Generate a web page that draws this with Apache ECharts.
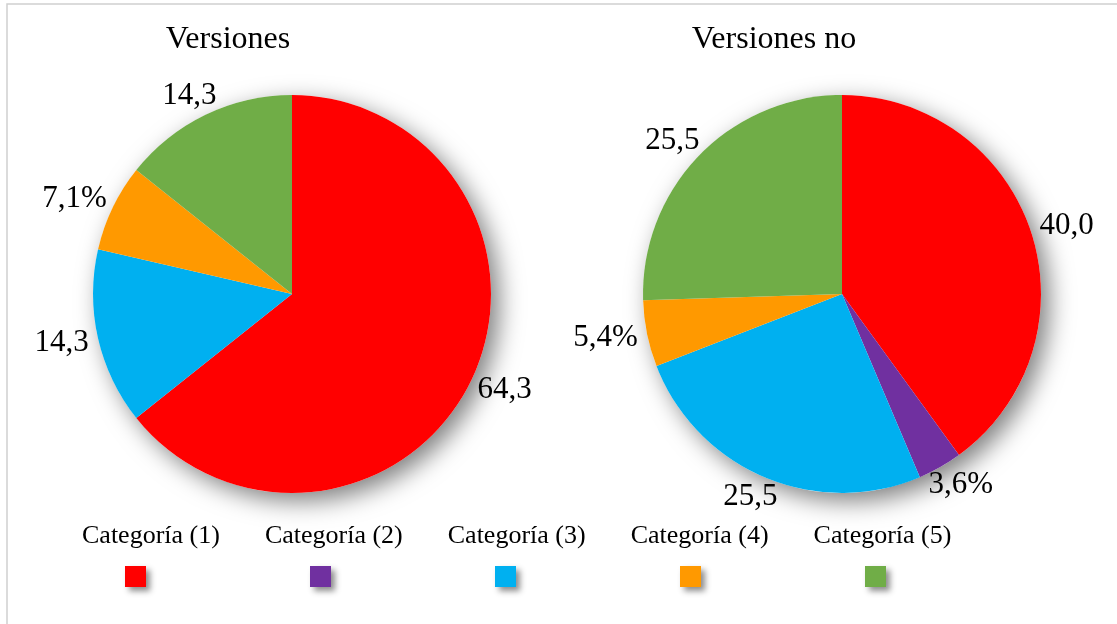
<!DOCTYPE html>
<html>
<head>
<meta charset="utf-8">
<script src="https://cdn.jsdelivr.net/npm/echarts@6/dist/echarts.min.js"></script>
<style>
html,body{margin:0;padding:0;background:#fff;}
#chart{width:1117px;height:624px;}
</style>
</head>
<body>
<div id="chart"></div>
<script>
const categories = ['Categoría (1)', 'Categoría (2)', 'Categoría (3)', 'Categoría (4)', 'Categoría (5)'];
const colors = ['#FF0000', '#7030A0', '#00B0F0', '#FF9900', '#70AD47'];
const titles = ['Versiones', 'Versiones no'];
const valuesVersiones = [64.3, 0, 14.3, 7.1, 14.3];
const labelsVersiones = ['64,3', '', '14,3', '7,1%', '14,3'];
const valuesVersionesNo = [40.0, 3.6, 25.5, 5.4, 25.5];
const labelsVersionesNo = ['40,0', '3,6%', '25,5', '5,4%', '25,5'];

const FONT = '"Liberation Serif", "Times New Roman", serif';
const R = 199;
const pies = [
  { cx: 292, cy: 294, values: valuesVersiones, labels: labelsVersiones, title: titles[0], tx: 223 },
  { cx: 842, cy: 294, values: valuesVersionesNo, labels: labelsVersionesNo, title: titles[1], tx: 769 }
];

function makeLabelLayout(p) {
  const total = p.values.reduce((a, b) => a + b, 0);
  return function (params) {
    const i = params.dataIndex;
    let before = 0;
    for (let k = 0; k < i; k++) before += p.values[k];
    const mid = (before + p.values[i] / 2) / total * Math.PI * 2;
    const ux = Math.sin(mid), uy = -Math.cos(mid);
    const w = params.labelRect.width, h = params.labelRect.height * 0.7;
    const gap = 10;
    return {
      x: p.cx + (R + gap) * ux + ux * w / 2,
      y: p.cy + (R + gap) * uy + uy * h / 2,
      align: 'center',
      verticalAlign: 'middle'
    };
  };
}

const series = [];
pies.forEach(function (p, idx) {
  // backdrop disc carrying the pie's soft shadow
  series.push({
    type: 'pie',
    name: 'shadow' + idx,
    center: [p.cx, p.cy],
    radius: R,
    silent: true,
    z: 1,
    animation: false,
    label: { show: false },
    labelLine: { show: false },
    itemStyle: {
      color: '#ffffff',
      shadowBlur: 24,
      shadowOffsetX: 8,
      shadowOffsetY: 8,
      shadowColor: 'rgba(0,0,0,0.5)'
    },
    data: [{ name: '_bg' + idx, value: 1 }]
  });
  series.push({
    type: 'pie',
    name: p.title,
    center: [p.cx, p.cy],
    radius: R,
    startAngle: 90,
    clockwise: true,
    z: 2,
    animation: false,
    avoidLabelOverlap: false,
    label: {
      show: true,
      position: 'outside',
      fontFamily: FONT,
      fontSize: 31,
      color: '#000',
      formatter: function (prm) { return p.labels[prm.dataIndex]; }
    },
    labelLine: { show: false },
    labelLayout: makeLabelLayout(p),
    emphasis: { disabled: true },
    data: categories.map(function (c, i) {
      return {
        name: c,
        value: p.values[i],
        itemStyle: { color: colors[i] },
        label: { show: p.labels[i] !== '' }
      };
    })
  });
});

const option = {
  backgroundColor: '#ffffff',
  animation: false,
  title: pies.map(function (p) {
    return {
      text: p.title,
      left: p.tx,
      top: 19,
      textAlign: 'center',
      textStyle: { fontFamily: FONT, fontSize: 32, fontWeight: 'normal', color: '#000' }
    };
  }),
  legend: [
    {
      data: categories,
      selectedMode: false,
      orient: 'horizontal',
      padding: 0,
      left: 77,
      top: 521,
      itemGap: 40,
      itemWidth: 0,
      itemHeight: 30,
      icon: 'rect',
      itemStyle: { color: 'transparent', shadowBlur: 0 },
      textStyle: { fontFamily: FONT, fontSize: 26, color: '#000' }
    },
    {
      data: categories,
      selectedMode: false,
      orient: 'horizontal',
      padding: 0,
      left: 125,
      top: 566,
      itemGap: 164,
      itemWidth: 21,
      itemHeight: 21,
      icon: 'rect',
      formatter: function () { return ''; },
      itemStyle: {
        shadowBlur: 6,
        shadowOffsetX: 4,
        shadowOffsetY: 4,
        shadowColor: 'rgba(0,0,0,0.45)'
      },
      textStyle: { fontFamily: FONT, fontSize: 26 }
    }
  ],
  graphic: [{
    type: 'rect',
    silent: true,
    shape: { x: 7, y: 4, width: 1130, height: 640 },
    style: { fill: 'none', stroke: '#d0d0d0', lineWidth: 1.5 },
    z: 0
  }],
  series: series
};

const chart = echarts.init(document.getElementById('chart'), null, { renderer: 'canvas' });
chart.setOption(option);
</script>
</body>
</html>
